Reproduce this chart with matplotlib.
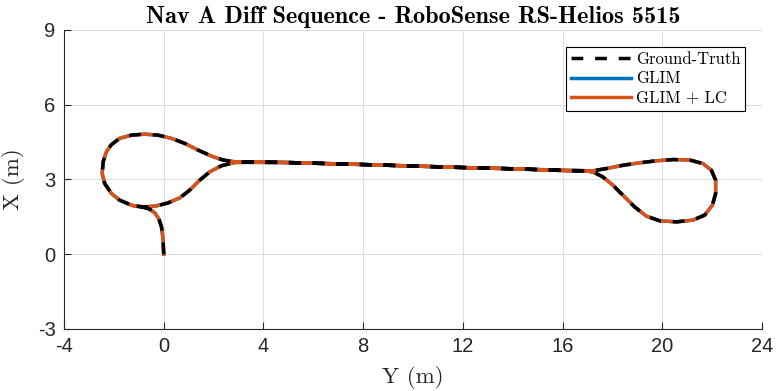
import matplotlib.pyplot as plt

# trajectory, (Y, X) in metres
traj_y = [0.0, -0.03, -0.09, -0.2, -0.36, -0.56, -0.83, -1.3, -1.77, -2.1, -2.37, -2.47,
          -2.43, -2.3, -2.1, -1.77, -1.3, -0.76, -0.23, 0.31, 0.84, 1.38, 1.91, 2.38, 2.85,
          3.25, 3.45, 5.0, 8.0, 10.0, 12.0, 14.0, 16.3, 17.22, 17.76, 18.42, 19.09, 19.76,
          20.43, 21.1, 21.63, 21.97, 22.14, 22.14, 22.01, 21.7, 21.23, 20.57, 19.9, 19.36,
          18.89, 18.42, 18.02, 17.62, 17.29, 16.96, 16.0, 14.0, 12.0, 8.0, 5.0, 3.25, 2.85,
          2.31, 1.85, 1.44, 1.04, 0.64, 0.17, -0.29, -0.76, -1.16]
traj_x = [0.0, 0.63, 1.10, 1.43, 1.66, 1.81, 1.89, 1.97, 2.17, 2.44, 2.84, 3.24,
          3.71, 4.11, 4.4, 4.65, 4.78, 4.82, 4.78, 4.65, 4.45, 4.18, 3.94, 3.78, 3.71,
          3.69, 3.71, 3.68, 3.6, 3.54, 3.48, 3.43, 3.35, 3.35, 3.44, 3.57, 3.67, 3.75,
          3.8, 3.78, 3.64, 3.37, 2.97, 2.44, 1.97, 1.57, 1.37, 1.3, 1.34, 1.53,
          1.9, 2.37, 2.77, 3.1, 3.27, 3.35, 3.37, 3.43, 3.48, 3.6, 3.68, 3.69, 3.68,
          3.55, 3.31, 2.97, 2.57, 2.26, 2.06, 1.94, 1.9, 1.93]

gt_y, gt_x = traj_y, traj_x
glim_y, glim_x = traj_y, traj_x
lc_y, lc_x = traj_y, traj_x

xticks = [-4, 0, 4, 8, 12, 16, 20, 24]
yticks = [-3, 0, 3, 6, 9]

fig = plt.figure(figsize=(7.77, 3.91), dpi=100)
ax = fig.add_axes([0.0824, 0.1586, 0.8983, 0.7647])

l1, = ax.plot(gt_y, gt_x, color='black', lw=2.5, linestyle=(0, (3.4, 3.4)), zorder=5, label='Ground-Truth')
l2, = ax.plot(glim_y, glim_x, color='#0072BD', lw=2.5, zorder=3, label='GLIM')
l3, = ax.plot(lc_y, lc_x, color='#D95319', lw=2.5, zorder=4, label='GLIM + LC')

ax.set_xlim(-4, 24)
ax.set_ylim(-3, 9)
ax.set_xticks(xticks)
ax.set_yticks(yticks)
ax.set_xticklabels([str(t) for t in xticks], fontfamily='Liberation Sans', fontsize=14.5)
ax.set_yticklabels([str(t) for t in yticks], fontfamily='Liberation Sans', fontsize=14.5)
ax.tick_params(direction='in', length=5, width=0.8, color='#262626', labelcolor='#262626', pad=6)

ax.grid(True, color='#dcdcdc', lw=0.7)
ax.set_axisbelow(True)
ax.spines['top'].set_visible(False)
ax.spines['right'].set_visible(False)
for s in ['left', 'bottom']:
    ax.spines[s].set_color('#262626')
    ax.spines[s].set_linewidth(0.8)

ax.set_xlabel('Y (m)', fontfamily='cmr10', fontsize=16.5, color='#262626', labelpad=7)
ax.set_ylabel('X (m)', fontfamily='cmr10', fontsize=16.5, color='#262626', labelpad=9)
ax.set_title('Nav A Diff Sequence - RoboSense RS-Helios 5515', fontfamily='cmb10', fontsize=17.5, pad=5)

leg = ax.legend(handles=[l1, l2, l3], loc='upper right', prop={'family': 'cmr10', 'size': 12},
                fancybox=False, edgecolor='black', framealpha=1, handlelength=3.6,
                borderaxespad=1.0, borderpad=0.3, labelspacing=0.25, handletextpad=0.3)
leg.get_frame().set_linewidth(0.8)

fig.savefig('out.png', dpi=100)
